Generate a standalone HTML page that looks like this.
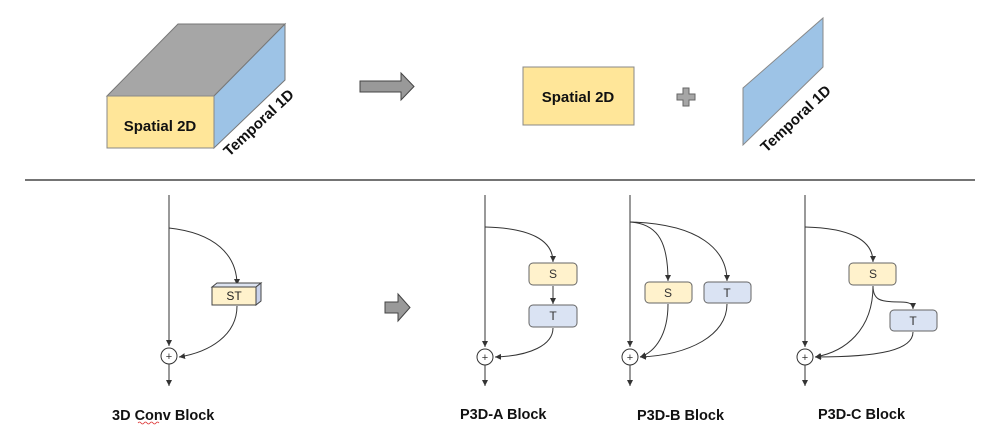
<!DOCTYPE html>
<html><head><meta charset="utf-8"><style>
body{margin:0;background:#fff;}
svg{display:block;font-family:"Liberation Sans",Arial,sans-serif;}
.b{font-weight:bold;fill:#111;}
</style></head><body>
<svg width="1000" height="437" viewBox="0 0 1000 437">
<defs>
<marker id="a" markerWidth="8" markerHeight="8" refX="6" refY="3" orient="auto" markerUnits="userSpaceOnUse"><path d="M0,0 L6,3 L0,6z" fill="#333"/></marker>
</defs>
<!-- cube -->
<polygon points="107,96 178,24 285,24 214,96" fill="#a6a6a6" stroke="#777" stroke-width="1"/>
<polygon points="214,96 285,24 285,80 214,148" fill="#9dc3e6" stroke="#777" stroke-width="1"/>
<rect x="107" y="96" width="107" height="52" fill="#ffe699" stroke="#888"/>
<text x="160" y="131" class="b" font-size="15" text-anchor="middle">Spatial 2D</text>
<text x="258" y="128" class="b" font-size="15" text-anchor="middle" transform="rotate(-43 258 122)">Temporal 1D</text>
<!-- arrow top -->
<polygon points="360,81 401,81 401,73 414,86.5 401,100 401,92 360,92" fill="#999" stroke="#444" stroke-width="1"/>
<rect x="523" y="67" width="111" height="58" fill="#ffe699" stroke="#888"/>
<text x="578" y="102" class="b" font-size="15" text-anchor="middle">Spatial 2D</text>
<polygon points="683,88 689,88 689,94 695,94 695,100 689,100 689,106 683,106 683,100 677,100 677,94 683,94" fill="#a6a6a6" stroke="#666"/>
<polygon points="743,88 823,18 823,67 743,145" fill="#9dc3e6" stroke="#888"/>
<text x="795" y="124" class="b" font-size="15" text-anchor="middle" transform="rotate(-43 795 118)">Temporal 1D</text>
<line x1="25" y1="180" x2="975" y2="180" stroke="#222" stroke-width="1.2"/>
<g stroke="#333" stroke-width="1" fill="none">
<!-- 3D conv -->
<line x1="169" y1="195" x2="169" y2="346" marker-end="url(#a)"/>
<circle cx="169" cy="356" r="8" fill="#fff"/>
<line x1="169" y1="364" x2="169" y2="386" marker-end="url(#a)"/>
<path d="M169,228 C215,233 237,255 237,285" marker-end="url(#a)"/>
<path d="M237,306 C237,335 210,352 179,357" marker-end="url(#a)"/>
<!-- A -->
<line x1="485" y1="195" x2="485" y2="347" marker-end="url(#a)"/>
<circle cx="485" cy="357" r="8" fill="#fff"/>
<line x1="485" y1="365" x2="485" y2="386" marker-end="url(#a)"/>
<path d="M485,227 C530,228 553,240 553,262" marker-end="url(#a)"/>
<line x1="553" y1="286" x2="553" y2="304" marker-end="url(#a)"/>
<path d="M553,328 C553,345 530,356 495,357" marker-end="url(#a)"/>
<!-- B -->
<line x1="630" y1="195" x2="630" y2="347" marker-end="url(#a)"/>
<circle cx="630" cy="357" r="8" fill="#fff"/>
<line x1="630" y1="365" x2="630" y2="386" marker-end="url(#a)"/>
<path d="M630,222 C660,224 668,245 668,281" marker-end="url(#a)"/>
<path d="M630,222 C700,224 727,250 727,281" marker-end="url(#a)"/>
<path d="M668,304 C668,335 655,352 640,357" marker-end="url(#a)"/>
<path d="M727,304 C727,335 690,355 640,357" marker-end="url(#a)"/>
<!-- C -->
<line x1="805" y1="195" x2="805" y2="347" marker-end="url(#a)"/>
<circle cx="805" cy="357" r="8" fill="#fff"/>
<line x1="805" y1="365" x2="805" y2="386" marker-end="url(#a)"/>
<path d="M805,227 C850,228 873,240 873,262" marker-end="url(#a)"/>
<path d="M873,286 C873,300 880,302 900,302 C910,302 913,304 913,309" marker-end="url(#a)"/>
<path d="M873,286 C873,330 845,352 815,357" marker-end="url(#a)"/>
<path d="M913,332 C913,350 880,357 815,357" marker-end="url(#a)"/>
</g>
<g font-size="11" fill="#333" text-anchor="middle">
<text x="169" y="360">+</text><text x="485" y="361">+</text><text x="630" y="361">+</text><text x="805" y="361">+</text>
</g>
<!-- ST box -->
<polygon points="212,287 217,283 261,283 256,287" fill="#dde3f0" stroke="#444"/>
<polygon points="256,287 261,283 261,301 256,305" fill="#c9d2ea" stroke="#444"/>
<rect x="212" y="287" width="44" height="18" fill="#fff2cc" stroke="#444"/>
<text x="234" y="300" font-size="12" text-anchor="middle" fill="#222">ST</text>
<g stroke="#666" stroke-width="1">
<rect x="529" y="263" width="48" height="22" rx="4" fill="#fff2cc"/>
<rect x="529" y="305" width="48" height="22" rx="4" fill="#dae3f3"/>
<rect x="645" y="282" width="47" height="21" rx="4" fill="#fff2cc"/>
<rect x="704" y="282" width="47" height="21" rx="4" fill="#dae3f3"/>
<rect x="849" y="263" width="47" height="22" rx="4" fill="#fff2cc"/>
<rect x="890" y="310" width="47" height="21" rx="4" fill="#dae3f3"/>
</g>
<g font-size="12" fill="#333" text-anchor="middle">
<text x="553" y="278">S</text><text x="553" y="320">T</text>
<text x="668" y="297">S</text><text x="727" y="297">T</text>
<text x="873" y="278">S</text><text x="913" y="325">T</text>
</g>
<g class="b" font-size="14.5">
<text x="112" y="420" class="b">3D Conv Block</text>
<text x="460" y="419" class="b">P3D-A Block</text>
<text x="637" y="420" class="b">P3D-B Block</text>
<text x="818" y="419" class="b">P3D-C Block</text>
</g>
<path d="M138,423 q1.5,-2 3,0 t3,0 t3,0 t3,0 t3,0 t3,0 t3,0" stroke="#d33" stroke-width="0.8" fill="none"/>
<!-- mid arrow -->
<polygon points="385,302 398,302 398,294 410,307.5 398,321 398,313 385,313" fill="#999" stroke="#444"/>
</svg>
</body></html>
